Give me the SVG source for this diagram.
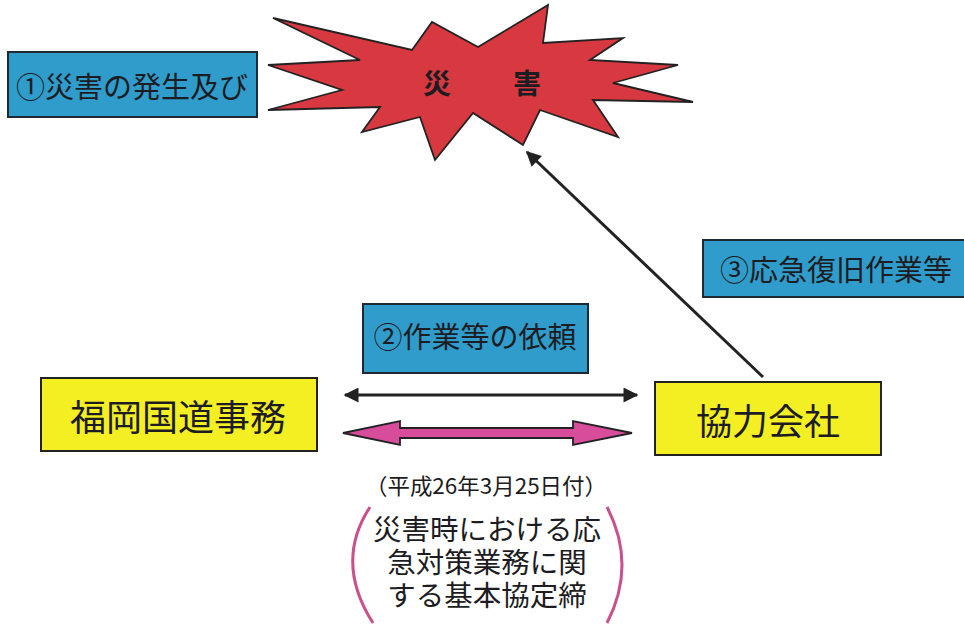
<svg xmlns="http://www.w3.org/2000/svg" width="964" height="625" viewBox="0 0 964 625">
<style>
.t{font-family:"Noto Sans CJK JP","Noto Sans CJK SC",sans-serif;fill:#1c1c22;}
.blue{fill:#2f9ccb;stroke:#1e2a33;stroke-width:2;}
.yel{fill:#f4ef22;stroke:#222;stroke-width:2;}
.line{stroke:#222;stroke-width:3;fill:none;}
</style>
<defs>
<marker id="ah" viewBox="0 0 10 10" refX="9" refY="5" markerWidth="6" markerHeight="5" orient="auto-start-reverse" markerUnits="strokeWidth">
<path d="M0,0 L10,5 L0,10 z" fill="#222"/>
</marker>
</defs>
<rect width="964" height="625" fill="#ffffff"/>
<g id="disaster">
<polygon points="273,18 412,50 432,22 478,47 548,5 543,43 623,38 590,60 678,65 613,83 693,102 593,100 618,137 540,110 523,145 473,113 435,160 420,117 362,132 380,107 268,110 342,90 268,65 360,60" fill="#d8383f" stroke="#222" stroke-width="1.8" stroke-linejoin="miter"/>
<text class="t" x="437" y="82" font-size="28" font-weight="bold" text-anchor="middle" dominant-baseline="central" fill="#2a2a2a">災</text>
<text class="t" x="527" y="82" font-size="28" font-weight="bold" text-anchor="middle" dominant-baseline="central" fill="#2a2a2a">害</text>
</g>
<g id="label1">
<rect class="blue" x="8" y="52" width="249" height="65"/>
<text class="t" x="132" y="85" font-size="29" text-anchor="middle" dominant-baseline="central">①災害の発生及び</text>
</g>
<g id="label2">
<rect class="blue" x="363" y="304" width="225" height="69"/>
<text class="t" x="475" y="335" font-size="29" text-anchor="middle" dominant-baseline="central">②作業等の依頼</text>
</g>
<g id="label3">
<rect class="blue" x="703" y="240" width="264" height="57"/>
<text class="t" x="836" y="268" font-size="29" text-anchor="middle" dominant-baseline="central">③応急復旧作業等</text>
</g>
<g id="fukuoka">
<rect class="yel" x="41" y="378" width="276" height="73"/>
<text class="t" x="178" y="415" font-size="36" text-anchor="middle" dominant-baseline="central">福岡国道事務</text>
</g>
<g id="kyoryoku">
<rect class="yel" x="655" y="382" width="226" height="73"/>
<text class="t" x="768" y="419" font-size="36" text-anchor="middle" dominant-baseline="central">協力会社</text>
</g>
<g id="connectors">
<line class="line" x1="763" y1="377" x2="527" y2="152" stroke-width="2.5" marker-end="url(#ah)"/>
<line class="line" x1="345" y1="395" x2="637" y2="395" marker-start="url(#ah)" marker-end="url(#ah)"/>
<polygon points="343,433 400,421 400,428 573,428 573,421 632,433 573,445 573,438 400,438 400,445" fill="#d84c9c" stroke="#222" stroke-width="1.8" stroke-linejoin="miter"/>
</g>
<g id="agreement">
<text class="t" x="486" y="484" font-size="22" text-anchor="middle" dominant-baseline="central" textLength="242" lengthAdjust="spacingAndGlyphs">（平成26年3月25日付）</text>
<path d="M370,507 Q334,562 373,623" fill="none" stroke="#c9508c" stroke-width="3"/>
<path d="M607,507 Q637,565 607,623" fill="none" stroke="#c9508c" stroke-width="3"/>
<text class="t" font-size="28.5" text-anchor="middle" dominant-baseline="central"><tspan x="487" y="527">災害時における応</tspan><tspan x="487" y="560">急対策業務に関</tspan><tspan x="487" y="593">する基本協定締</tspan></text>
</g>
</svg>
